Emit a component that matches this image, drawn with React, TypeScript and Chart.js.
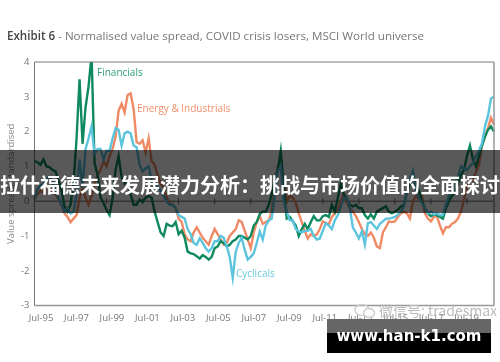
import React, { useEffect, useRef } from "react";
import { Chart, registerables } from "chart.js";
Chart.register(...registerables);

const yearLabels = ["Jul-95","Jul-97","Jul-99","Jul-01","Jul-03","Jul-05","Jul-07","Jul-09","Jul-11","Jul-13","Jul-15","Jul-17","Jul-19"];

const financials = [
1.15,1.12,1.05,1.2,1.0,.98,.9,.85,.6,.3,-.15,-.3,-.1,.5,1.8,3.5,1.65,2.7,3.3,4.2,1.1,.75,.1,-.05,-.25,-.4,.1,.9,1.3,.7,.5,.55,.2,-.1,-.1,.05,-.02,.1,.15,.1,-.3,-.6,-.9,-1.0,-.65,-.7,-.72,-.6,-.95,-.85,-1.05,-1.45,-1.5,-1.52,-1.58,-1.65,-1.55,-1.6,-1.68,-1.6,-1.35,-1.3,-1.15,-1.2,-1.3,-1.25,-1.15,-1.1,-1.0,-1.0,-1.05,-1.1,-1.0,-.7,-.6,-.37,-.3,-.3,-.1,.2,.6,.9,1.45,.4,-.5,-.45,-.58,-.7,-1.0,-.8,-.65,-.8,-.6,-.43,-.55,-.55,-.43,-.4,-.45,-.1,-.3,.1,.5,.2,.05,-.1,-.15,-.1,-.2,-.2,-.4,-.5,-.38,-.5,-.3,-.25,-.2,-.15,-.3,-.35,-.3,-.25,-.15,-.1,.25,.5,.78,.5,.3,0,-.2,-.35,-.43,-.38,-.4,-.45,-.5,-.2,0,.15,.25,.5,.75,.9,1.3,1.6,1.2,1.0,1.3,1.6,1.85,2.05,2.15,2.0];

const energyIndustrials = [
.05,.2,.3,.25,.45,.35,.3,.2,.05,-.1,-.35,-.45,-.6,-.5,-.4,.1,.35,.1,-.1,.15,.5,.75,.9,1.15,1.0,1.3,1.5,1.85,2.6,2.8,2.55,3.05,3.1,2.65,1.7,1.65,1.75,1.4,1.8,1.15,1.05,.75,.5,.4,.1,-.05,-.1,-.2,-.5,-.6,-.95,-1.1,-1.15,-.9,-.75,-.9,-1.05,-1.15,-1.25,-1.0,-.8,-.95,-1.1,-1.25,-1.2,-1.0,-.9,-.8,-.55,-.6,-.85,-1.1,-1.35,-.9,-.6,-.43,-.65,-.6,-.55,-.3,.4,1.0,1.05,.7,0,.15,.1,-.05,-.35,-.6,-.85,-1.07,-.95,-1.0,-.95,-.8,-.58,-.62,-.67,-.45,-.35,-.25,0,.2,-.05,-.2,-.3,-.43,-.6,-.8,-.95,-1.0,-.9,-1.05,-1.3,-1.35,-.9,-.75,-.58,-.6,-.58,-.45,-.35,-.3,-.35,-.5,0,.15,.05,.15,-.35,-.5,-.58,-.45,-.43,-.7,-.92,-.75,-.75,-.65,-.6,-.5,-.3,.05,.45,.6,.6,.85,1.05,1.6,1.9,2.1,2.4,2.2];

const cyclicals = [
.05,.35,.45,.5,.65,.7,.55,.35,.1,-.1,-.3,-.2,-.35,-.3,.2,1.2,.4,1.5,1.8,2.15,1.35,1.5,1.5,1.2,1.45,1.45,1.8,2.1,2.05,1.6,1.95,2.0,1.95,1.6,1.55,1.05,.85,.95,1.0,.6,.5,.4,.3,.15,0,-.1,-.1,-.2,-.4,-.45,-.5,-.8,-.95,-1.2,-1.25,-1.07,-1.2,-1.35,-1.45,-1.35,-1.15,-1.15,-1.0,-1.05,-1.3,-1.6,-2.2,-1.45,-1.2,-1.05,-1.4,-1.68,-1.6,-1.5,-1.2,-.87,-1.1,-.7,-.55,-.5,.2,.87,1.0,0,-.3,-.55,-.55,-.8,-.87,-.9,-.85,-.85,-.8,-1.0,-1.1,-1.07,-.85,-.63,-.7,-.8,-.55,-.4,-.15,.1,.1,-.2,-.75,-.9,-1.07,-.87,-1.25,-.63,-.6,-.7,-.8,-.65,-.58,-.5,-.5,-.48,-.45,-.38,-.3,-.15,.3,.6,.87,.3,.1,-.05,-.2,-.35,-.3,-.38,-.35,-.4,-.38,-.1,.15,.3,.55,.7,1.0,.95,.9,1.0,1.1,1.3,1.45,1.67,2.15,2.45,2.95,3.0];

const categories = financials.map((_, i) => (i % 12 === 0 ? yearLabels[i / 12] : ""));

const GREY = "#777777";

const framePlugin = {
  id: "frame",
  beforeDatasetsDraw(chart: any) {
    const { ctx, chartArea: a, scales } = chart;
    const y0 = scales.y.getPixelForValue(0);
    ctx.save();
    ctx.strokeStyle = "#666666";
    ctx.lineWidth = 1;
    ctx.beginPath();
    ctx.moveTo(a.left, y0);
    ctx.lineTo(a.right, y0);
    yearLabels.forEach((_, k) => {
      const x = scales.x.getPixelForValue(k * 12);
      ctx.moveTo(x, y0 - 3);
      ctx.lineTo(x, y0 + 3);
    });
    ctx.stroke();
    ctx.restore();
  },
  afterDatasetsDraw(chart: any) {
    const { ctx, chartArea: a } = chart;
    ctx.save();
    ctx.lineWidth = 1;
    ctx.strokeStyle = "#777777";
    ctx.beginPath();
    ctx.moveTo(a.left, a.top);
    ctx.lineTo(a.right, a.top);
    ctx.moveTo(a.left, a.top);
    ctx.lineTo(a.left, a.bottom);
    ctx.stroke();
    ctx.strokeStyle = "#999999";
    ctx.lineWidth = 1.5;
    ctx.beginPath();
    ctx.moveTo(a.left, a.bottom);
    ctx.lineTo(a.right, a.bottom);
    ctx.moveTo(a.right, a.top);
    ctx.lineTo(a.right, a.bottom);
    ctx.stroke();
    ctx.font = '500 10px "Open Sans"';
    ctx.textBaseline = "middle";
    ctx.fillStyle = "#2f9e74";
    ctx.fillText("Financials", 97, 73);
    ctx.fillStyle = "#f0906a";
    ctx.fillText("Energy & Industrials", 137, 109);
    ctx.fillStyle = "#6cc8dc";
    ctx.fillText("Cyclicals", 236, 274);
    ctx.restore();
  },
};

export default function App() {
  const ref = useRef<HTMLCanvasElement>(null);
  useEffect(() => {
    const chart = new Chart(ref.current!, {
      type: "line",
      data: {
        labels: categories,
        datasets: [
          { label: "Energy & Industrials", data: energyIndustrials, borderColor: "#f08a65", order: 3 },
          { label: "Financials", data: financials, borderColor: "#0f8a5f", order: 2 },
          { label: "Cyclicals", data: cyclicals, borderColor: "#5cc4dc", order: 1 },
        ].map((d) => ({ ...d, borderWidth: 2.4, pointRadius: 0, tension: 0, fill: false })),
      },
      options: {
        responsive: false,
        animation: false,
        layout: { padding: { top: 62, right: 6, bottom: 31, left: 6 } },
        plugins: { legend: { display: false }, tooltip: { enabled: false } },
        scales: {
          x: { display: false, offset: false },
          xLabels: {
            type: "linear",
            position: "bottom",
            min: -0.183,
            max: 12.77,
            grid: { display: false, drawTicks: false },
            border: { display: false },
            ticks: {
              stepSize: 1,
              includeBounds: false,
              maxRotation: 0,
              autoSkip: false,
              color: GREY,
              padding: 7,
              font: { family: "Open Sans", size: 9.5 },
              callback: (v: any) => yearLabels[v] ?? "",
            },
          },
          y: {
            min: -3,
            max: 4,
            afterFit: (s: any) => { s.width = 28.5; },
            grid: { display: false, drawTicks: false },
            border: { display: false },
            title: {
              display: true,
              text: "Value spread, standardised",
              color: "#888888",
              padding: 0,
              font: { family: "Open Sans", size: 9.5 },
            },
            ticks: { stepSize: 1, color: GREY, padding: 5, font: { family: "Open Sans", size: 9.5 } },
          },
        },
      },
      plugins: [framePlugin],
    } as any);
    return () => chart.destroy();
  }, []);

  return (
    <div style={{ position: "absolute", left: 0, top: 0, width: 500, height: 362, overflow: "hidden", background: "#fff" }}>
      <canvas ref={ref} width={500} height={362} style={{ display: "block" }} />
      <div style={{ position: "absolute", left: 7, top: 28, whiteSpace: "nowrap", font: '11.6px "Open Sans"', color: "#777" }}>
        <b style={{ color: "#444", fontWeight: 600 }}>Exhibit 6</b> - Normalised value spread, COVID crisis losers, MSCI World universe
      </div>
      <div style={{ position: "absolute", left: 0, top: 150, width: 500, height: 63, background: "rgba(0,0,0,0.65)" }} />
      <div style={{ position: "absolute", left: -5, top: 171, width: 510, textAlign: "center", whiteSpace: "nowrap", font: 'bold 20px/28px "Noto Sans CJK SC"', color: "#fff" }}>
        拉什福德未来发展潜力分析：挑战与市场价值的全面探讨
      </div>
      <div style={{ position: "absolute", left: 379, top: 301, whiteSpace: "nowrap", font: '14px/18px "Noto Sans CJK SC"', color: "#bdbdbd" }}>
        微信号: tradesmax
      </div>
      <svg style={{ position: "absolute", left: 354, top: 303 }} width="22" height="16">
        <ellipse cx="8" cy="7" rx="7" ry="5.5" fill="none" stroke="#d0d0d0" strokeWidth="1.5" />
        <ellipse cx="15" cy="10" rx="5.5" ry="4.5" fill="#fff" stroke="#d0d0d0" strokeWidth="1.5" />
      </svg>
      <div style={{ position: "absolute", left: 327, top: 319, width: 164, height: 34, background: "#000" }} />
      <div style={{ position: "absolute", left: 327, top: 319, width: 164, height: 14, background: "#666" }} />
      <div style={{ position: "absolute", left: 327, top: 323, width: 164, textAlign: "center", whiteSpace: "nowrap", font: 'bold 15px/26px "DejaVu Sans"', color: "#fff" }}>
        www.han-k1.com
      </div>
    </div>
  );
}
